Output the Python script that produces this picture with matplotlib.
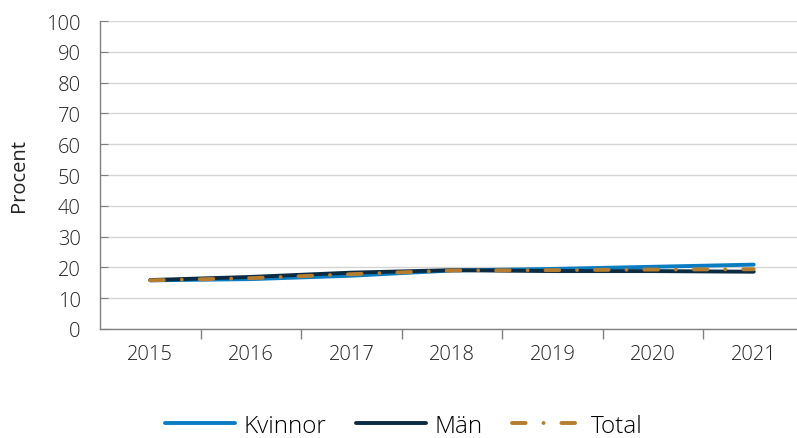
import matplotlib
matplotlib.use("Agg")
import matplotlib.pyplot as plt
import numpy as np

years = ["2015", "2016", "2017", "2018", "2019", "2020", "2021"]
kvinnor = [15.8, 16.2, 17.3, 19.0, 19.5, 20.2, 20.9]
man = [15.9, 16.9, 18.3, 19.1, 18.8, 18.8, 18.6]
total = [15.8, 16.5, 17.8, 19.0, 19.1, 19.3, 19.4]

plt.rcParams["font.family"] = ["Open Sans", "DejaVu Sans"]
plt.rcParams["font.weight"] = "light"

fig = plt.figure(figsize=(7.97, 4.39), dpi=100)
ax = fig.add_axes([100 / 797, (439 - 330) / 439, 704 / 797, 308 / 439])

x = np.arange(len(years))
ax.plot(x, kvinnor, color="#0a7cc1", lw=2.8, solid_capstyle="round", label="Kvinnor")
ax.plot(x, man, color="#0b2b42", lw=2.8, solid_capstyle="round", label="Män")
ax.plot(x, total, color="#b57d2f", lw=2.8, dashes=(3.5, 4.6, 0.01, 4.6),
        dash_capstyle="round", label="Total")

ax.set_xlim(-0.5, len(years) - 0.5)
ax.set_ylim(0, 100)
ax.set_yticks(range(0, 101, 10))
ax.set_xticks(x)
ax.set_xticklabels(years)
ax.set_xticks(np.arange(0.5, len(years) - 1, 1), minor=True)
ax.tick_params(axis="x", which="major", length=0, labelsize=14.5, pad=11, colors="#222222")
ax.tick_params(axis="x", which="minor", length=7, color="#808080", width=1)
ax.tick_params(axis="y", length=6, direction="in", labelsize=14.5,
               pad=14, colors="#222222")
ax.tick_params(axis="y", color="#808080")
ax.grid(axis="y", color="#d4d4d4", lw=1)
ax.set_axisbelow(True)
for s in ["top", "right"]:
    ax.spines[s].set_visible(False)
for s in ["left", "bottom"]:
    ax.spines[s].set_color("#808080")
    ax.spines[s].set_linewidth(1)

ax.set_ylabel("Procent", fontsize=14.5, color="#222222", labelpad=12)

fig.legend(loc="center", bbox_to_anchor=(404 / 797, 1 - 427 / 439), ncol=3,
           frameon=False, fontsize=17.5, handlelength=2.9, columnspacing=1.2,
           handletextpad=0.35)

fig.savefig("out.png", dpi=100)
